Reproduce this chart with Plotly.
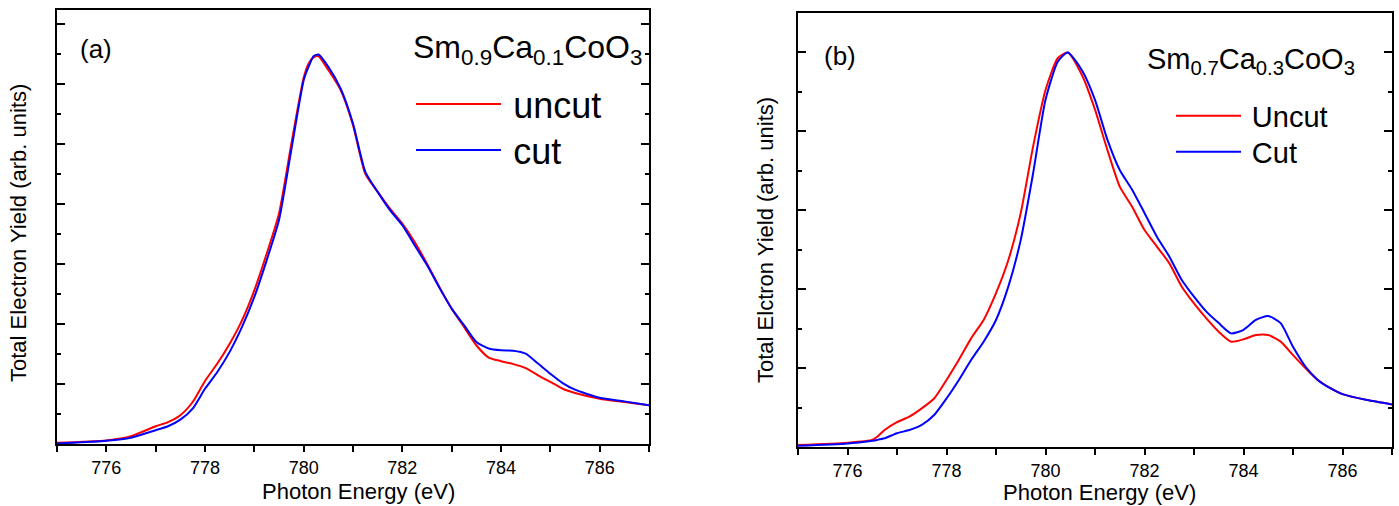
import plotly.graph_objects as go

# ---------------- data (y in tick units) ----------------
energy_a = [775, 776, 776.5, 777, 777.25, 777.5, 777.75, 778, 778.25, 778.5, 778.75,
            779, 779.25, 779.5, 779.75, 780, 780.1, 780.2, 780.3, 780.5, 780.75,
            781, 781.25, 781.5, 781.75, 782, 782.25, 782.5, 782.75, 783, 783.25,
            783.5, 783.75, 784, 784.25, 784.5, 784.75, 785, 785.25, 785.5, 786,
            786.5, 787]
uncut_a = [0.04, 0.12, 0.26, 0.59, 0.73, 0.96, 1.40, 2.10, 2.68, 3.34, 4.12,
           5.12, 6.34, 7.68, 10.0, 12.2, 12.68, 12.88, 12.92, 12.46, 11.79,
           10.62, 9.0, 8.4, 7.84, 7.34, 6.73, 6.01, 5.23, 4.51, 3.90,
           3.29, 2.88, 2.76, 2.66, 2.53, 2.29, 2.07, 1.84, 1.70, 1.51,
           1.40, 1.29]
cut_a = [0.02, 0.11, 0.21, 0.46, 0.59, 0.81, 1.18, 1.84, 2.40, 3.07, 3.90,
         4.90, 6.12, 7.46, 9.8, 12.12, 12.57, 12.92, 12.98, 12.57, 11.84,
         10.68, 9.07, 8.4, 7.79, 7.29, 6.62, 5.96, 5.21, 4.51, 3.96,
         3.40, 3.18, 3.12, 3.11, 3.01, 2.68, 2.34, 2.03, 1.81, 1.54,
         1.42, 1.29]

energy_b = [775, 776, 776.5, 776.6, 776.75, 777, 777.25, 777.5, 777.75, 778, 778.25,
            778.5, 778.75, 779, 779.25, 779.5, 779.75, 780, 780.25, 780.45, 780.75,
            781, 781.25, 781.5, 781.75, 782, 782.25, 782.5, 782.75, 783, 783.25,
            783.5, 783.75, 784, 784.25, 784.5, 784.75, 785, 785.25, 785.5, 785.75,
            786, 786.5, 787]
uncut_b = [0.05, 0.11, 0.18, 0.26, 0.43, 0.63, 0.77, 0.98, 1.23, 1.70, 2.21,
           2.76, 3.22, 3.90, 4.74, 5.93, 7.62, 9.05, 9.86, 10.0, 9.39,
           8.55, 7.53, 6.60, 6.09, 5.50, 5.08, 4.66, 4.07, 3.64, 3.26,
           2.92, 2.67, 2.73, 2.84, 2.84, 2.67, 2.33, 2.00, 1.70, 1.50,
           1.34, 1.19, 1.08]
cut_b = [0.03, 0.09, 0.16, 0.18, 0.22, 0.35, 0.43, 0.56, 0.81, 1.23, 1.70,
         2.21, 2.67, 3.22, 4.07, 5.25, 6.94, 8.80, 9.77, 10.0, 9.52,
         8.80, 7.79, 7.02, 6.52, 5.93, 5.33, 4.83, 4.24, 3.81, 3.43,
         3.14, 2.88, 2.97, 3.22, 3.32, 3.14, 2.54, 2.04, 1.70, 1.49,
         1.34, 1.19, 1.08]

x_ticks = [776, 778, 780, 782, 784, 786]
x_range = [775, 787]
y_range_a = [0, 14.46]
y_range_b = [0, 11.0]

FONT = "Liberation Sans, Arial, sans-serif"
RED = "#ff0000"
BLUE = "#0000ff"
THIN = "\u2009"

fig = go.Figure()
fig.add_trace(go.Scatter(x=energy_a, y=uncut_a, mode="lines", name=THIN + "uncut",
                         line=dict(color=RED, width=2, shape="spline", smoothing=0.6),
                         xaxis="x", yaxis="y", legend="legend"))
fig.add_trace(go.Scatter(x=energy_a, y=cut_a, mode="lines", name=THIN + "cut",
                         line=dict(color=BLUE, width=2, shape="spline", smoothing=0.6),
                         xaxis="x", yaxis="y", legend="legend2"))
fig.add_trace(go.Scatter(x=energy_b, y=uncut_b, mode="lines", name=THIN + "Uncut",
                         line=dict(color=RED, width=2, shape="spline", smoothing=0.6),
                         xaxis="x2", yaxis="y2", legend="legend3"))
fig.add_trace(go.Scatter(x=energy_b, y=cut_b, mode="lines", name=THIN + "Cut",
                         line=dict(color=BLUE, width=2, shape="spline", smoothing=0.6),
                         xaxis="x2", yaxis="y2", legend="legend4"))

dom_a_x = [57 / 1399, 649 / 1399]
dom_a_y = [1 - 444 / 506, 1 - 10 / 506]
dom_b_x = [798 / 1399, 1392 / 1399]
dom_b_y = [1 - 447 / 506, 1 - 13 / 506]


def xaxis_main(domain, anchor):
    return dict(domain=domain, anchor=anchor, range=x_range, tickvals=x_ticks,
                ticks="outside", ticklen=6, tickwidth=1.5, tickcolor="black",
                minor=dict(dtick=1, tick0=775, ticks="outside", ticklen=6,
                           tickwidth=1.5, tickcolor="black", showgrid=False),
                showline=True, linecolor="black", linewidth=2, mirror=True,
                showgrid=False, zeroline=False,
                tickfont=dict(family=FONT, size=18, color="black"))


def xaxis_top(overlay, anchor):
    return dict(overlaying=overlay, anchor=anchor, side="top", range=x_range,
                tick0=775, dtick=1, ticks="inside", ticklen=6, tickwidth=1.5,
                tickcolor="black", showticklabels=False, showline=False,
                showgrid=False, zeroline=False)


def yaxis_main(domain, anchor, rng):
    return dict(domain=domain, anchor=anchor, range=rng, tick0=0, dtick=2,
                ticks="inside", ticklen=8, tickwidth=1.5, tickcolor="black",
                minor=dict(dtick=1, tick0=0, ticks="inside", ticklen=4,
                           tickwidth=1.5, tickcolor="black", showgrid=False),
                showticklabels=False, showline=True, linecolor="black",
                linewidth=2, mirror="ticks", showgrid=False, zeroline=False)


def legend_at(x_px, y_px, size, width):
    return dict(x=x_px / 1399, y=1 - y_px / 506, xanchor="left", yanchor="middle",
                font=dict(family=FONT, size=size, color="black"),
                bgcolor="rgba(0,0,0,0)", itemwidth=width)


fig.update_layout(
    width=1399, height=506,
    margin=dict(l=0, r=0, t=0, b=0),
    paper_bgcolor="white", plot_bgcolor="white",
    font=dict(family=FONT, color="black"),
    xaxis=xaxis_main(dom_a_x, "y"),
    yaxis=yaxis_main(dom_a_y, "x", y_range_a),
    xaxis2=xaxis_main(dom_b_x, "y2"),
    yaxis2=yaxis_main(dom_b_y, "x2", y_range_b),
    xaxis3=xaxis_top("x", "y"),
    xaxis4=xaxis_top("x2", "y2"),
    legend=legend_at(411, 104, 36, 85),
    legend2=legend_at(411, 150, 36, 85),
    legend3=legend_at(1171, 116, 29, 65),
    legend4=legend_at(1171, 152, 29, 65),
    showlegend=True,
)

ann = [
    dict(text="(a)", x=96 / 1399, y=1 - 49 / 506, font=dict(size=26)),
    dict(text="(b)", x=840 / 1399, y=1 - 56 / 506, font=dict(size=26)),
    dict(text="Sm<sub>0.9</sub>Ca<sub>0.1</sub>CoO<sub>3</sub>", x=411 / 1399,
         y=1 - 49 / 506, xanchor="left", font=dict(size=32)),
    dict(text="Sm<sub>0.7</sub>Ca<sub>0.3</sub>CoO<sub>3</sub>", x=1145 / 1399,
         y=1 - 61 / 506, xanchor="left", font=dict(size=29)),
    dict(text="Photon Energy (eV)", x=358 / 1399, y=1 - 491 / 506, font=dict(size=22)),
    dict(text="Photon Energy (eV)", x=1099 / 1399, y=1 - 492 / 506, font=dict(size=22)),
    dict(text="Total Electron Yield (arb. units)", x=18 / 1399, y=1 - 233 / 506,
         textangle=-90, font=dict(size=22)),
    dict(text="Total Elctron Yield (arb. units)", x=766 / 1399, y=1 - 240 / 506,
         textangle=-90, font=dict(size=22)),
]
for a in ann:
    a.setdefault("xanchor", "center")
    a.update(xref="paper", yref="paper", yanchor="middle", showarrow=False)
    a["font"] = dict(family=FONT, color="black", **a["font"])
fig.update_layout(annotations=ann)

# remove the browser's default 8px body margin so the figure sits at (0, 0)
fig.write_html("out.html", config={"displayModeBar": False},
               post_script="document.body.style.margin='0';document.body.style.padding='0';")
